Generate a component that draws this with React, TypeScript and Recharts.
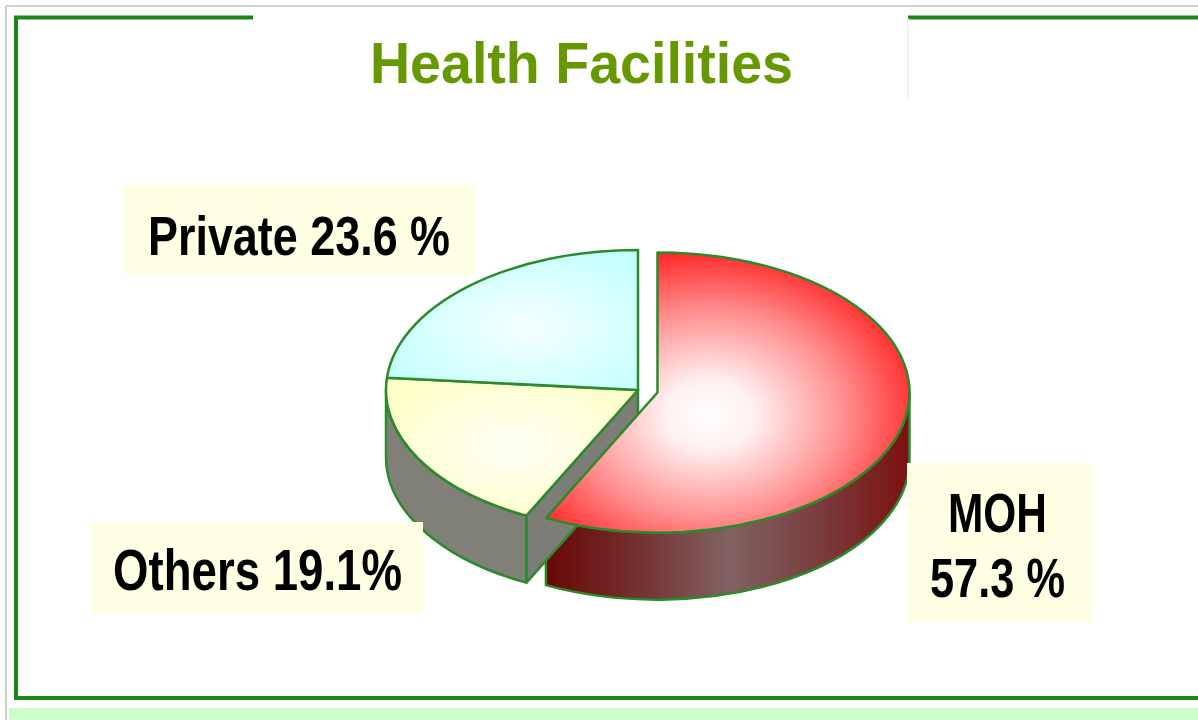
import React from 'react';
import { PieChart, Pie } from 'recharts';

// ---- data ----
const categories = ['MOH', 'Others', 'Private'];
const shares = [57.3, 19.1, 23.6];
const labelLines = [['MOH', '57.3 %'], ['Others 19.1%'], ['Private 23.6 %']];
const title = 'Health Facilities';

const data = categories.map((name, i) => ({ name, value: shares[i] }));

// ---- 3D look ----
const RATIO = 0.556;
const DEPTH = 67;
const EXPLODE = 20;
const exploded = new Set(['MOH']);
const STROKE = '#2b8a2b';
const FONT = '"Liberation Sans", Arial, sans-serif';

const topFill: Record<string, string> = {
  MOH: 'url(#gMohTop)',
  Others: 'url(#gOthTop)',
  Private: 'url(#gPrvTop)',
};
const sideFill: Record<string, string> = {
  MOH: 'url(#gMohSide)',
  Others: '#808078',
  Private: '#7fa0a0',
};
const faceFill: Record<string, string> = {
  MOH: '#7a1010',
  Others: '#7d7d78',
  Private: '#7fa0a0',
};

function geom(p: any) {
  const name: string = (p.payload && p.payload.name) || p.name;
  const hi = Math.max(p.startAngle, p.endAngle);
  const lo = Math.min(p.startAngle, p.endAngle);
  const rx = p.outerRadius;
  const ry = rx * RATIO;
  let cx = p.cx;
  let cy = p.cy;
  if (exploded.has(name)) {
    const m = (((hi + lo) / 2) * Math.PI) / 180;
    cx += EXPLODE * Math.cos(m);
    cy -= EXPLODE * RATIO * Math.sin(m);
  }
  const P = (deg: number, dz = 0) => {
    const r = (deg * Math.PI) / 180;
    return `${(cx + rx * Math.cos(r)).toFixed(2)},${(cy - ry * Math.sin(r) + dz).toFixed(2)}`;
  };
  return { name, hi, lo, rx, ry, cx, cy, P };
}

function SideShape(p: any) {
  const g = geom(p);
  const idx = categories.indexOf(g.name);
  const n = categories.length;
  const parts: React.ReactNode[] = [];
  for (let k = -2; k <= 1; k++) {
    const a = Math.max(g.lo, -180 + 360 * k);
    const b = Math.min(g.hi, 360 * k);
    if (b - a > 0.01) {
      const large = b - a > 180 ? 1 : 0;
      const d = `M${g.P(b)} A${g.rx},${g.ry} 0 ${large} 1 ${g.P(a)} L${g.P(a, DEPTH)} A${g.rx},${g.ry} 0 ${large} 0 ${g.P(b, DEPTH)} Z`;
      parts.push(
        <path key={`arc${k}`} d={d} fill={sideFill[g.name]} stroke={STROKE} strokeWidth={2.5} strokeLinejoin="round" />
      );
    }
  }
  const C = `${g.cx.toFixed(2)},${g.cy.toFixed(2)}`;
  const Cd = `${g.cx.toFixed(2)},${(g.cy + DEPTH).toFixed(2)}`;
  const prev = categories[(idx - 1 + n) % n];
  const next = categories[(idx + 1) % n];
  const cs = Math.cos((g.hi * Math.PI) / 180);
  if (cs < -0.01 && (exploded.has(g.name) || exploded.has(prev))) {
    parts.push(
      <path key="fs" d={`M${C} L${g.P(g.hi)} L${g.P(g.hi, DEPTH)} L${Cd} Z`} fill={faceFill[g.name]} stroke={STROKE} strokeWidth={2.5} strokeLinejoin="round" />
    );
  }
  const ce = Math.cos((g.lo * Math.PI) / 180);
  if (ce > 0.01 && (exploded.has(g.name) || exploded.has(next))) {
    parts.push(
      <path key="fe" d={`M${C} L${g.P(g.lo)} L${g.P(g.lo, DEPTH)} L${Cd} Z`} fill={faceFill[g.name]} stroke={STROKE} strokeWidth={2.5} strokeLinejoin="round" />
    );
  }
  return <g>{parts}</g>;
}

function TopShape(p: any) {
  const g = geom(p);
  const large = g.hi - g.lo > 180 ? 1 : 0;
  const d = `M${g.cx.toFixed(2)},${g.cy.toFixed(2)} L${g.P(g.hi)} A${g.rx},${g.ry} 0 ${large} 1 ${g.P(g.lo)} Z`;
  return <path d={d} fill={topFill[g.name]} stroke={STROKE} strokeWidth={2.5} strokeLinejoin="round" />;
}

const boxFill = '#ffffe4';

export default function App() {
  return (
    <div style={{ position: 'absolute', left: 0, top: 0, width: 1198, height: 720, background: '#ffffff', overflow: 'hidden' }}>
      <svg width={0} height={0} style={{ position: 'absolute' }}>
        <defs>
          <radialGradient id="gMohTop" cx="0.45" cy="0.58" r="0.62">
            <stop offset="0" stopColor="#ffffff" />
            <stop offset="0.2" stopColor="#fff0f0" />
            <stop offset="0.6" stopColor="#ff8e8e" />
            <stop offset="1" stopColor="#ff1a1a" />
          </radialGradient>
          <radialGradient id="gOthTop" cx="0.5" cy="0.5" r="0.6">
            <stop offset="0" stopColor="#fffff6" />
            <stop offset="1" stopColor="#ffffc8" />
          </radialGradient>
          <radialGradient id="gPrvTop" cx="0.55" cy="0.55" r="0.6">
            <stop offset="0" stopColor="#f6ffff" />
            <stop offset="1" stopColor="#c6ffff" />
          </radialGradient>
          <linearGradient id="gMohSide" x1="0" y1="0" x2="1" y2="0">
            <stop offset="0" stopColor="#680606" />
            <stop offset="0.25" stopColor="#743030" />
            <stop offset="0.5" stopColor="#806262" />
            <stop offset="0.72" stopColor="#7a4242" />
            <stop offset="1" stopColor="#7c1010" />
          </linearGradient>
        </defs>
      </svg>

      {/* frame */}
      <svg width={1198} height={720} style={{ position: 'absolute', left: 0, top: 0 }}>
        <line x1={6} y1={6} x2={1198} y2={6} stroke="#d0d0d0" strokeWidth={2} />
        <line x1={6} y1={6} x2={6} y2={720} stroke="#d0d0d0" strokeWidth={2} />
        <rect x={9} y={708} width={1189} height={12} fill="#ccffcc" />
        <rect x={16} y={17.5} width={1200} height={680.5} fill="#ffffff" stroke="#1a861a" strokeWidth={4} />
        <rect x={253} y={14} width={655} height={86} fill="#ffffff" />
        <line x1={908} y1={18} x2={908} y2={100} stroke="#f0f0f0" strokeWidth={1.5} />
      </svg>

      <div style={{ position: 'absolute', left: 0, top: 0 }}>
        <PieChart width={1198} height={720} margin={{ top: 0, right: 0, bottom: 0, left: 0 }}>
          <Pie
            data={data}
            dataKey="value"
            nameKey="name"
            cx={638}
            cy={390}
            outerRadius={252}
            startAngle={90}
            endAngle={-270}
            stroke="none"
            isAnimationActive={false}
            shape={SideShape}
          />
          <Pie
            data={data}
            dataKey="value"
            nameKey="name"
            cx={638}
            cy={390}
            outerRadius={252}
            startAngle={90}
            endAngle={-270}
            stroke="none"
            isAnimationActive={false}
            shape={TopShape}
          />
        </PieChart>
      </div>

      {/* title & labels */}
      <svg width={1198} height={720} style={{ position: 'absolute', left: 0, top: 0, pointerEvents: 'none' }}>
        <text x={370} y={83} fontFamily={FONT} fontWeight="bold" fontSize={57} fill="#669900" textLength={423} lengthAdjust="spacingAndGlyphs">
          {title}
        </text>

        <rect x={123} y={185} width={352} height={90} fill={boxFill} />
        <text x={148} y={255} fontFamily={FONT} fontWeight="bold" fontSize={56} fill="#000" textLength={302} lengthAdjust="spacingAndGlyphs">
          {labelLines[2][0]}
        </text>

        <rect x={92} y={522} width={331} height={91} fill={boxFill} />
        <text x={113} y={590} fontFamily={FONT} fontWeight="bold" fontSize={57} fill="#000" textLength={289} lengthAdjust="spacingAndGlyphs">
          {labelLines[1][0]}
        </text>

        <rect x={907} y={463} width={185} height={159} fill={boxFill} />
        <text x={948} y={532} fontFamily={FONT} fontWeight="bold" fontSize={55} fill="#000" textLength={99} lengthAdjust="spacingAndGlyphs">
          {labelLines[0][0]}
        </text>
        <text x={930} y={597} fontFamily={FONT} fontWeight="bold" fontSize={55} fill="#000" textLength={135} lengthAdjust="spacingAndGlyphs">
          {labelLines[0][1]}
        </text>
      </svg>
    </div>
  );
}
